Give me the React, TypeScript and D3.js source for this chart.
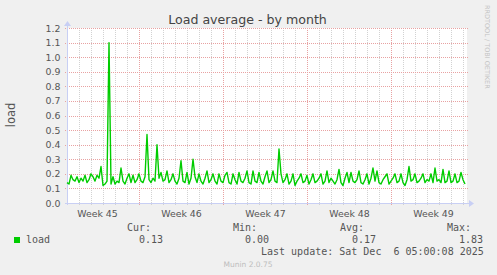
import React from "react";
import * as d3 from "d3";

// ---- data ----
const seriesStart = "2025-11-04T00:00:00Z";
const stepHours = 4;
const loadValues = [
  0.14, 0.13, 0.19, 0.16, 0.15, 0.18, 0.14, 0.17, 0.15, 0.19,
  0.14, 0.16, 0.20, 0.18, 0.15, 0.19, 0.17, 0.25, 0.12, 0.13,
  0.15, 1.10, 0.13, 0.18, 0.13, 0.15, 0.14, 0.24, 0.15, 0.13,
  0.17, 0.20, 0.14, 0.19, 0.14, 0.16, 0.20, 0.15, 0.14, 0.18,
  0.47, 0.16, 0.14, 0.17, 0.15, 0.40, 0.17, 0.21, 0.15, 0.16,
  0.22, 0.14, 0.16, 0.20, 0.15, 0.13, 0.17, 0.29, 0.15, 0.14,
  0.21, 0.13, 0.17, 0.30, 0.18, 0.14, 0.20, 0.15, 0.13, 0.17,
  0.22, 0.14, 0.16, 0.20, 0.15, 0.13, 0.20, 0.15, 0.14, 0.19,
  0.21, 0.14, 0.13, 0.20, 0.16, 0.13, 0.21, 0.15, 0.14, 0.17,
  0.22, 0.14, 0.13, 0.22, 0.15, 0.14, 0.21, 0.15, 0.13, 0.18,
  0.22, 0.14, 0.16, 0.22, 0.15, 0.14, 0.37, 0.20, 0.14, 0.16,
  0.20, 0.13, 0.15, 0.20, 0.12, 0.15, 0.17, 0.20, 0.14, 0.15,
  0.19, 0.13, 0.16, 0.20, 0.14, 0.15, 0.17, 0.20, 0.13, 0.15,
  0.22, 0.14, 0.17, 0.15, 0.13, 0.16, 0.23, 0.14, 0.12, 0.17,
  0.21, 0.14, 0.21, 0.15, 0.14, 0.16, 0.22, 0.14, 0.13, 0.16,
  0.20, 0.13, 0.17, 0.24, 0.15, 0.22, 0.14, 0.13, 0.16, 0.18,
  0.20, 0.13, 0.15, 0.17, 0.20, 0.14, 0.15, 0.20, 0.14, 0.12,
  0.16, 0.25, 0.15, 0.16, 0.20, 0.14, 0.15, 0.17, 0.20, 0.14,
  0.16, 0.15, 0.20, 0.14, 0.24, 0.15, 0.16, 0.14, 0.23, 0.14,
  0.15, 0.22, 0.14, 0.15, 0.20, 0.14, 0.15, 0.21, 0.16, 0.13,
];
const yTickValues = [0, 0.1, 0.2, 0.3, 0.4, 0.5, 0.6, 0.7, 0.8, 0.9, 1.0, 1.1, 1.2];
const legendHeaders = ["Cur:", "Min:", "Avg:", "Max:"];
const legendValues = ["0.13", "0.00", "0.17", "1.83"];
const seriesName = "load";
const titleText = "Load average - by month";
const yLabel = "load";
const lastUpdate = "Last update: Sat Dec  6 05:00:08 2025";
const footer = "Munin 2.0.75";
const watermark = "RRDTOOL / TOBI OETIKER";

// ---- layout ----
const W = 497, H = 275;
const X0 = 67, X1 = 467, Y0 = 203, Y1 = 28;
const visibleDays = 400 / 12;

const MINOR = "#d2d2d2";
const MAJOR = "#e8a2a2";
const AXIS = "#c8cff4";
const GREEN = "#00cc00";
const TXT = "#555555";

export default function App() {
  const start = new Date(seriesStart);
  const end = new Date(start.getTime() + visibleDays * 864e5);
  const x = d3.scaleUtc().domain([start, end]).range([X0, X1]);
  const y = d3.scaleLinear().domain([0, 1.2]).range([Y0, Y1]);

  const pts = loadValues.map((v, i) => ({ t: d3.utcHour.offset(start, i * stepHours), v }));
  const line = d3
    .line<{ t: Date; v: number }>()
    .x((d) => x(d.t))
    .y((d) => y(d.v));

  const mondays = d3.utcMonday.range(start, end);
  const mondayKeys = new Set(mondays.map((d) => +d));
  const days = d3.utcDay.range(d3.utcDay.offset(start, 1), end).filter((d) => !mondayKeys.has(+d));
  const weekStarts = d3.utcMonday.range(d3.utcDay.offset(start, -7), end);
  const weekFmt = d3.utcFormat("%V");

  const px = (v: number) => Math.round(v) + 0.5;
  const sans = "'DejaVu Sans', sans-serif";
  const mono = "'DejaVu Sans Mono', monospace";

  const headerX = [127, 233, 340, 447];
  const valueX = [139, 245, 352, 459];

  return (
    <svg
      width={W}
      height={H}
      style={{ position: "absolute", left: 0, top: 0, display: "block" }}
      xmlns="http://www.w3.org/2000/svg"
    >
      <rect x={0} y={0} width={W} height={H} fill="#f0f0f0" />
      <rect x={X0} y={Y1} width={X1 - X0} height={Y0 - Y1} fill="#ffffff" />

      {/* minor vertical grid */}
      {days.map((d, i) => (
        <line key={"mi" + i} x1={px(x(d))} x2={px(x(d))} y1={Y1} y2={Y0 + 2}
          stroke={MINOR} strokeDasharray="1,1" />
      ))}
      {/* major vertical grid */}
      {mondays.map((d, i) => (
        <line key={"ma" + i} x1={px(x(d))} x2={px(x(d))} y1={Y1} y2={Y0 + 2}
          stroke={MAJOR} strokeDasharray="1,1" />
      ))}
      {/* horizontal grid */}
      {yTickValues.slice(1).map((v, i) => (
        <line key={"h" + i} x1={X0 - 2} x2={X1 + 2} y1={px(y(v))} y2={px(y(v))}
          stroke={MAJOR} strokeDasharray="1,1" />
      ))}

      {/* y tick labels */}
      {yTickValues.map((v, i) => (
        <text key={"yl" + i} x={60.5} y={y(v) + 3.5} textAnchor="end" fontFamily={sans}
          fontSize={9.4} fill={TXT}>{v.toFixed(1)}</text>
      ))}

      {/* week labels */}
      {weekStarts.map((d, i) => {
        const cx = x(new Date(d.getTime() + 3.5 * 864e5));
        if (cx < X0 || cx > X1) return null;
        return (
          <text key={"wl" + i} x={cx + 0.5} y={216.5} textAnchor="middle" fontFamily={sans}
            fontSize={9.4} fill={TXT}>{"Week " + +weekFmt(d)}</text>
        );
      })}

      {/* axes */}
      <line x1={X0 - 2} x2={X1 + 3} y1={px(Y0)} y2={px(Y0)} stroke={AXIS} />
      <polygon points={`${X1 + 2},${Y0 - 3} ${X1 + 7},${Y0 + 0.5} ${X1 + 2},${Y0 + 4}`} fill={AXIS} />
      <line x1={px(X0)} x2={px(X0)} y1={Y0 + 2} y2={Y1 - 3} stroke={AXIS} />
      <polygon points={`${X0 - 3},${Y1 - 2} ${X0 + 0.5},${Y1 - 7} ${X0 + 4},${Y1 - 2}`} fill={AXIS} />

      {/* data line */}
      <path d={line(pts) || ""} fill="none" stroke={GREEN} strokeWidth={1.4} strokeLinejoin="round" />

      {/* title */}
      <text x={247.5} y={24} textAnchor="middle" fontFamily={sans} fontSize={12.6} fill="#444444">
        {titleText}
      </text>

      {/* y axis label */}
      <text transform={`translate(15,115) rotate(-90)`} textAnchor="middle" fontFamily={sans}
        fontSize={11.5} fill={TXT}>{yLabel}</text>

      {/* watermark */}
      <text transform={`translate(485,5) rotate(90)`} textAnchor="start" fontFamily={sans}
        fontSize={6.5} fill="#c4c4c4">{watermark}</text>

      {/* legend */}
      {legendHeaders.map((h, i) => (
        <text key={"lh" + i} x={headerX[i]} y={231} fontFamily={mono} fontSize={10} fill={TXT}
          style={{ whiteSpace: "pre" }}>{h}</text>
      ))}
      <rect x={14} y={237} width={6} height={6} fill={GREEN} />
      <text x={26} y={243} fontFamily={mono} fontSize={10} fill={TXT}>{seriesName}</text>
      {legendValues.map((v, i) => (
        <text key={"lv" + i} x={valueX[i]} y={243} fontFamily={mono} fontSize={10} fill={TXT}>{v}</text>
      ))}
      <text x={261} y={255} fontFamily={mono} fontSize={10} fill={TXT} xmlSpace="preserve"
        style={{ whiteSpace: "pre" }}>{lastUpdate}</text>

      {/* footer */}
      <text x={248} y={266.5} textAnchor="middle" fontFamily={sans} fontSize={7.5} fill="#bdbdbd">
        {footer}
      </text>
    </svg>
  );
}
